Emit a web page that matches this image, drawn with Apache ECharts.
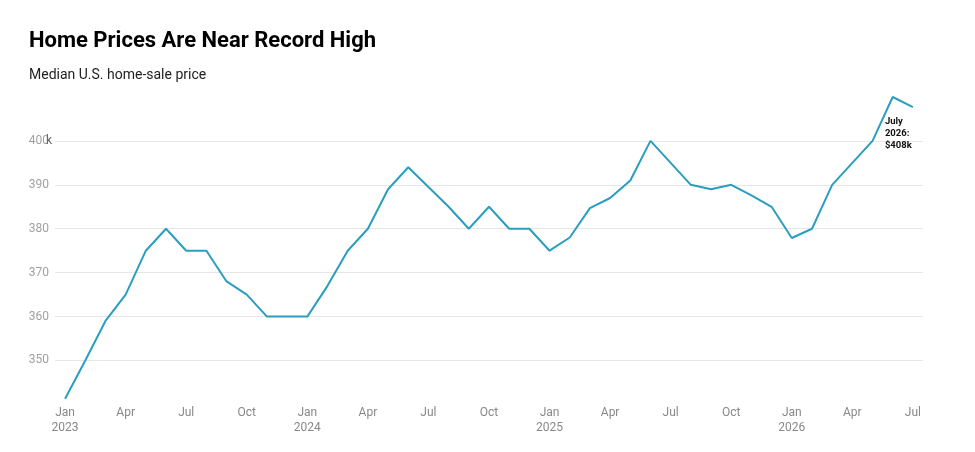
<!DOCTYPE html>
<html><head><meta charset="utf-8">
<script src="https://cdn.jsdelivr.net/npm/echarts@6/dist/echarts.min.js"></script>
<style>html,body{margin:0;padding:0;background:#fff}#c{width:975px;height:452px}</style>
</head><body><div id="c"></div>
<script>
const months = ['Jan','Feb','Mar','Apr','May','Jun','Jul','Aug','Sep','Oct','Nov','Dec'];
const startYear = 2023;
const prices = [
  341.3, 350, 359, 365, 375, 380, 375, 375, 368, 365, 360, 360,
  360, 367, 375, 380, 389, 394, 389.5, 385, 380, 385, 380, 380,
  375, 378, 384.7, 387, 391, 400, 395, 390, 389, 390, 387.6, 385,
  377.9, 380, 390, 395, 400, 410, 407.7
];
const labelIdx = [0,3,6,9,12,15,18,21,24,27,30,33,36,39,42];
const yTicks = [350,360,370,380,390,400];
const annotation = 'July\n2026:\n$408k';

const seriesData = prices.map((v,i)=>[i,v]);
const chart = echarts.init(document.getElementById('c'), null, {renderer:'canvas'});
chart.setOption({
  animation:false,
  textStyle:{fontFamily:'Roboto'},
  title:[
    {text:'Home Prices Are Near Record High', left:24, top:25,
     textStyle:{fontFamily:'Roboto', fontWeight:'bold', fontSize:22, color:'#000'}},
    {text:'Median U.S. home-sale price', left:24, top:63,
     textStyle:{fontFamily:'Roboto', fontWeight:'normal', fontSize:14, color:'#222'}}
  ],
  grid:{left:55, right:52, top:97, bottom:53.3, containLabel:false},
  xAxis:{
    type:'value', min:-0.5, max:prices.length-0.5,
    axisLine:{show:false}, axisTick:{show:false}, splitLine:{show:false},
    axisLabel:{
      customValues:labelIdx, margin:7, color:'#888', fontSize:12, lineHeight:15,
      formatter:(v)=>{
        const i=Math.round(v); const m=i%12; const y=startYear+Math.floor(i/12);
        return m===0 ? months[m]+'\n'+y : months[m];
      }
    }
  },
  yAxis:{
    type:'value', min:341.3, max:410,
    axisLine:{show:false}, axisTick:{show:false},
    splitLine:{show:true, showMinLine:false, showMaxLine:false, lineStyle:{color:'#e6e6e6', width:1}},
    axisLabel:{
      customValues:yTicks, margin:6, fontSize:12, color:'#a0a0a0',
      formatter:(v)=> v===400 ? '{a|400}{k|k}' : String(v),
      rich:{a:{color:'#a0a0a0', fontSize:12}, k:{color:'#666', fontSize:12, width:0, align:'left'}}
    }
  },
  series:[{
    type:'line', data:seriesData, showSymbol:false, symbol:'none',
    lineStyle:{color:'#2b9ec0', width:2},
    markPoint:{
      symbol:'circle', symbolSize:1, itemStyle:{color:'rgba(0,0,0,0)'},
      data:[{coord:seriesData[seriesData.length-1]}],
      label:{show:true, formatter:annotation, position:'inside', align:'left', verticalAlign:'top',
        offset:[-28,9], fontFamily:'Roboto', fontWeight:'bold', fontSize:9.5, lineHeight:12, color:'#111'}
    }
  }]
});
</script></body></html>
